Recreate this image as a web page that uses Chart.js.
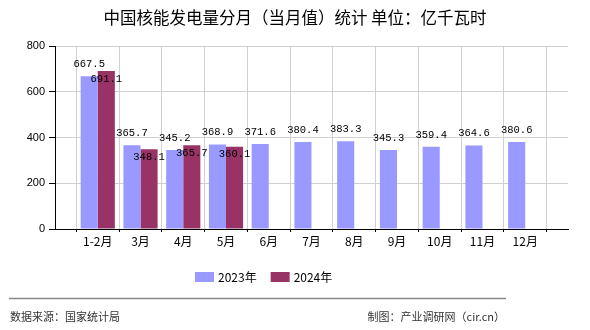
<!DOCTYPE html>
<html>
<head>
<meta charset="utf-8">
<script src="https://cdn.jsdelivr.net/npm/chart.js@4/dist/chart.umd.min.js"></script>
<style>
html,body{margin:0;padding:0;background:#fff;}
#wrap{position:relative;width:590px;height:330px;}
canvas{display:block;}
</style>
</head>
<body>
<div id="wrap"><canvas id="c" width="590" height="330"></canvas></div>
<script>
const titleText = '中国核能发电量分月（当月值）统计 单位：亿千瓦时';
const sourceText = '数据来源：国家统计局';
const creditText = '制图：产业调研网（cir.cn）';
const categories = ['1-2月','3月','4月','5月','6月','7月','8月','9月','10月','11月','12月'];
const series2023 = [667.5,365.7,345.2,368.9,371.6,380.4,383.3,345.3,359.4,364.6,380.6];
const series2024 = [691.1,348.1,365.7,360.1,null,null,null,null,null,null,null];
const seriesNames = ['2023年','2024年'];
const seriesColors = ['#9999FF','#993366'];
const yTicks = [0,200,400,600,800];

// padded category list (empty slot at each end)
const labels = [''].concat(categories, ['']);
const pad = arr => [null].concat(arr, [null]);

const decorPlugin = {
  id: 'decor',
  afterDatasetsDraw(chart) {
    const ctx = chart.ctx;
    ctx.save();
    ctx.font = '10.5px "Liberation Mono", "DejaVu Sans Mono", monospace';
    ctx.fillStyle = '#000';
    ctx.textAlign = 'center';
    ctx.textBaseline = 'middle';
    chart.data.datasets.forEach((ds, di) => {
      const meta = chart.getDatasetMeta(di);
      meta.data.forEach((el, i) => {
        const v = ds.data[i];
        if (v === null || v === undefined) return;
        const y = di === 0 ? el.y - 12 : el.y + 8;
        ctx.fillText(v.toFixed(1), el.x, y);
      });
    });
    ctx.restore();
  },
  afterDraw(chart) {
    const ctx = chart.ctx;
    ctx.save();
    // title
    ctx.fillStyle = '#000';
    ctx.font = '16.5px "Noto Sans CJK SC", sans-serif';
    ctx.textAlign = 'center';
    ctx.textBaseline = 'middle';
    ctx.fillText(titleText, 295, 18);
    // legend
    ctx.textAlign = 'left';
    let x = 195;
    chart.data.datasets.forEach((ds) => {
      ctx.fillStyle = ds.backgroundColor;
      ctx.fillRect(x, 272, 19, 10);
      ctx.fillStyle = '#000';
      ctx.font = '12px "Noto Sans CJK SC", sans-serif';
      ctx.fillText(ds.label, x + 23, 277);
      x += 23 + ctx.measureText(ds.label).width + 14;
    });
    // footer line
    ctx.strokeStyle = '#888';
    ctx.lineWidth = 1.5;
    ctx.beginPath();
    ctx.moveTo(9, 298.5);
    ctx.lineTo(506, 298.5);
    ctx.stroke();
    ctx.fillStyle = '#333';
    ctx.font = '11px "Noto Sans CJK SC", sans-serif';
    ctx.textAlign = 'left';
    ctx.fillText(sourceText, 10, 317);
    ctx.textAlign = 'right';
    ctx.fillText(creditText, 505, 317);
    ctx.restore();
  }
};

new Chart(document.getElementById('c'), {
  type: 'bar',
  data: {
    labels: labels,
    datasets: [
      { label: seriesNames[0], data: pad(series2023), backgroundColor: seriesColors[0], borderWidth: 0, categoryPercentage: 0.8, barPercentage: 1.0 },
      { label: seriesNames[1], data: pad(series2024), backgroundColor: seriesColors[1], borderWidth: 0, categoryPercentage: 0.8, barPercentage: 1.0 }
    ]
  },
  options: {
    responsive: false,
    animation: false,
    events: [],
    layout: { padding: { left: 0, right: 22, top: 46, bottom: 71 } },
    plugins: { legend: { display: false }, title: { display: false }, tooltip: { enabled: false } },
    scales: {
      x: {
        type: 'category',
        offset: false,
        grid: { color: '#d0d0d0', tickColor: '#000', tickLength: 3, lineWidth: 1 },
        border: { color: '#000', width: 1 },
        ticks: { color: '#000', font: { family: '"Noto Sans CJK SC", sans-serif', size: 12 }, padding: 2, maxRotation: 0, autoSkip: false },
        afterFit(scale) { scale.height = 30; }
      },
      y: {
        min: 0, max: 800,
        afterBuildTicks(scale) { scale.ticks = yTicks.map(v => ({ value: v })); },
        grid: { color: '#d0d0d0', tickColor: '#000', tickLength: 6 },
        border: { color: '#000', width: 1 },
        ticks: { color: '#000', font: { family: '"Liberation Sans", Arial, sans-serif', size: 11 }, padding: 4 },
        afterFit(scale) { scale.width = 55; }
      }
    }
  },
  plugins: [decorPlugin]
});
</script>
</body>
</html>
